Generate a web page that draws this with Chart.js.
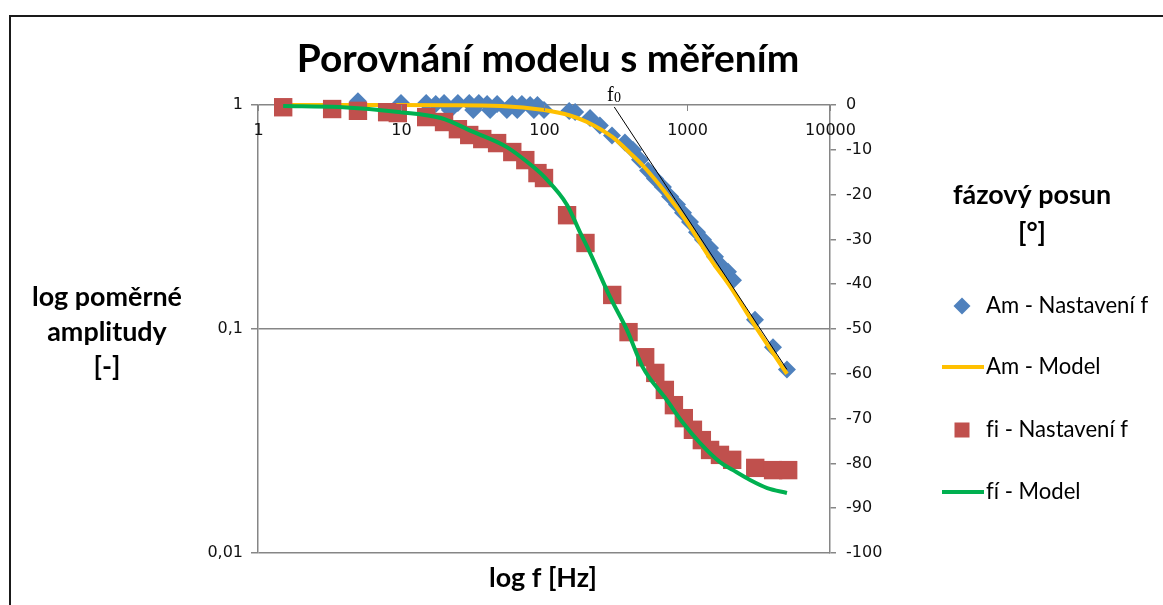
<!DOCTYPE html>
<html lang="cs">
<head>
<meta charset="utf-8">
<title>Porovnání modelu s měřením</title>
<script src="https://cdn.jsdelivr.net/npm/chart.js@4.4.1/dist/chart.umd.min.js"></script>
<style>
  html, body { margin: 0; padding: 0; background: #fff; }
  #wrap { width: 1163px; height: 605px; }
</style>
</head>
<body>
<div id="wrap"><canvas id="chart" width="1163" height="605"></canvas></div>
<script>
// amplituda - měření
const amFreq = [5, 10, 15, 17.5, 20, 22, 25, 30, 32, 35, 40, 42, 47, 55, 60, 65, 70, 80, 85, 90,
  100, 150, 165, 210, 246, 299, 368, 419, 469, 534, 597, 679, 761, 851, 938, 1050, 1175, 1294, 1449, 1570,
  1758, 1936, 2098, 2990, 3993, 5000];
const amMeas = [1.04, 1.02, 1.02, 1.01, 1.02, 0.95, 1.02, 1.02, 0.95, 1.02, 1.01, 0.95, 1.01, 0.95, 1.01, 0.95, 1.01, 1.0, 0.95, 1.0,
  0.95, 0.94, 0.93, 0.875, 0.81, 0.73, 0.68, 0.63, 0.57, 0.51, 0.47, 0.43, 0.39, 0.36, 0.33, 0.30, 0.27, 0.25, 0.23, 0.21,
  0.19, 0.18, 0.165, 0.11, 0.083, 0.066];

// amplituda - model
const amModelFreq = [1.5, 5, 10, 20, 50, 100, 150, 200, 300, 400, 500, 700, 1000, 1500, 2000, 3000, 4000, 5000];
const amModel = [1.0, 1.0, 1.0, 0.998, 0.99, 0.95, 0.90, 0.84, 0.72, 0.61, 0.53, 0.41, 0.30, 0.20, 0.155, 0.103, 0.078, 0.063];

// fázový posun - měření
const fiFreq = [1.5, 3.3, 5, 8, 9.5, 15, 20, 25, 30, 37, 47, 60, 74, 90, 100, 145, 195, 300, 390, 510,
  600, 700, 810, 950, 1100, 1270, 1450, 1700, 2070, 3000, 4000, 5100];
const fiMeas = [-0.5, -0.9, -1.3, -1.6, -1.8, -2.7, -3.8, -5.4, -6.7, -7.6, -8.5, -10.5, -12.3, -15.2, -16.3, -24.6, -30.8, -42.4, -50.7, -56.3,
  -59.8, -63.6, -67.0, -69.9, -72.5, -74.8, -77.0, -78.1, -79.2, -81.0, -81.5, -81.5];

// fázový posun - model
const fiModelFreq = [1.5, 3.7, 10, 19, 32, 55, 84, 100, 145, 178, 210, 290, 380, 490, 720, 940, 1230, 1700, 2100, 2760, 3640, 5000];
const fiModel = [-0.2, -0.45, -1.6, -2.9, -6.0, -9.4, -13.8, -16.0, -22.3, -28.3, -33.0, -42.9, -50.2, -58.5, -65.8, -71.0, -75.4, -79.7, -81.5, -83.7, -85.5, -86.6];

// asymptota od f0
const f0Freq = [310, 5000];
const f0Amp = [0.98, 0.066];

const xTicks = [1, 10, 100, 1000, 10000];
const xTickLabels = ['1', '10', '100', '1000', '10000'];
const yTicks = [0.01, 0.1, 1];
const yTickLabels = ['0,01', '0,1', '1'];

const chartTitle = 'Porovnání modelu s měřením';
const xTitle = 'log f [Hz]';
const yTitle = ['log poměrné', 'amplitudy', '[-]'];
const y1Title = ['fázový posun', '[°]'];
const legendLabels = ['Am - Nastavení f', 'Am - Model', 'fi - Nastavení f', 'fí - Model'];

const BLUE = '#4F81BD';
const ORANGE = '#FFC000';
const RED = '#C0504D';
const GREEN = '#00B050';
const AXIS = '#868686';
const CALIBRI = 'Lato';

function toPts(xs, ys) {
  return xs.map((v, i) => ({ x: v, y: ys[i] }));
}

// font size chosen so the text spans the given width
function fitFont(ctx, text, width, weight, family) {
  ctx.font = `${weight} 100px ${family}`;
  const size = 100 * width / ctx.measureText(text).width;
  return `${weight} ${size.toFixed(1)}px ${family}`;
}

// keep "fi" as two letters instead of the ligature
function noLig(text) {
  return text.replace(/f(?=[ií])/g, 'f\u200C');
}

const overlay = {
  id: 'overlay',
  afterDraw(chart) {
    const { ctx, chartArea: area } = chart;
    const x = chart.scales.x;
    ctx.save();

    // chart frame
    ctx.fillStyle = '#1a1a1a';
    ctx.fillRect(9, 15, chart.width - 9, 2);
    ctx.fillRect(9, 15, 2, chart.height - 15);

    // x axis ticks sit under the top line
    ctx.strokeStyle = AXIS;
    ctx.lineWidth = 1;
    ctx.fillStyle = '#111';
    ctx.font = '16px "DejaVu Sans"';
    ctx.textAlign = 'center';
    ctx.textBaseline = 'middle';
    xTicks.forEach((v, i) => {
      const px = Math.round(x.getPixelForValue(v)) + 0.5;
      ctx.beginPath();
      ctx.moveTo(px, area.top);
      ctx.lineTo(px, area.top + 6);
      ctx.stroke();
      ctx.fillText(xTickLabels[i], px, area.top + 26);
    });

    // titles
    ctx.fillStyle = '#000';
    ctx.font = fitFont(ctx, chartTitle, 503, 'bold', CALIBRI);
    ctx.fillText(chartTitle, 548, 59);

    const axisFont = fitFont(ctx, yTitle[0], 150, 'bold', CALIBRI);
    ctx.font = axisFont;
    yTitle.forEach((t, i) => ctx.fillText(t, 107, 297 + i * 35));
    y1Title.forEach((t, i) => ctx.fillText(t, 1032, 195 + i * 38));
    ctx.fillText(xTitle, 543, 578);

    // f0 label
    ctx.textAlign = 'left';
    ctx.textBaseline = 'alphabetic';
    ctx.font = '20px "Liberation Serif"';
    ctx.fillText('f', 607, 101);
    ctx.font = '14px "Liberation Serif"';
    ctx.fillText('0', 614, 102);

    // legend
    const rows = [306, 367, 430, 492];
    ctx.font = fitFont(ctx, legendLabels[0], 162, 'normal', CALIBRI);
    ctx.textBaseline = 'middle';
    rows.forEach((ly, i) => {
      const ds = chart.data.datasets.find(d => d.label === legendLabels[i]);
      if (ds.showLine) {
        ctx.strokeStyle = ds.borderColor;
        ctx.lineWidth = ds.borderWidth;
        ctx.beginPath();
        ctx.moveTo(942, ly);
        ctx.lineTo(984, ly);
        ctx.stroke();
      } else if (ds.pointStyle === 'rectRot') {
        ctx.fillStyle = ds.backgroundColor;
        ctx.beginPath();
        ctx.moveTo(962, ly - 8.5);
        ctx.lineTo(970.5, ly);
        ctx.lineTo(962, ly + 8.5);
        ctx.lineTo(953.5, ly);
        ctx.closePath();
        ctx.fill();
      } else {
        ctx.fillStyle = ds.backgroundColor;
        ctx.fillRect(954.5, ly - 7.5, 15, 15);
      }
      ctx.fillStyle = '#000';
      ctx.fillText(noLig(legendLabels[i]), 986, ly);
    });

    ctx.restore();
  }
};

new Chart(document.getElementById('chart'), {
  type: 'scatter',
  data: {
    datasets: [
      {
        label: 'f0',
        data: toPts(f0Freq, f0Amp),
        yAxisID: 'y',
        showLine: true,
        borderColor: '#000',
        borderWidth: 1,
        pointRadius: 0,
        clip: false,
        order: 0
      },
      {
        label: 'fí - Model',
        data: toPts(fiModelFreq, fiModel),
        yAxisID: 'y1',
        showLine: true,
        borderColor: GREEN,
        borderWidth: 4,
        pointRadius: 0,
        cubicInterpolationMode: 'monotone',
        clip: false,
        order: 1
      },
      {
        label: 'fi - Nastavení f',
        data: toPts(fiFreq, fiMeas),
        yAxisID: 'y1',
        pointStyle: 'rect',
        pointRadius: 13,
        backgroundColor: RED,
        borderColor: RED,
        borderWidth: 0,
        clip: false,
        order: 2
      },
      {
        label: 'Am - Model',
        data: toPts(amModelFreq, amModel),
        yAxisID: 'y',
        showLine: true,
        borderColor: ORANGE,
        borderWidth: 4,
        pointRadius: 0,
        cubicInterpolationMode: 'monotone',
        clip: false,
        order: 3
      },
      {
        label: 'Am - Nastavení f',
        data: toPts(amFreq, amMeas),
        yAxisID: 'y',
        pointStyle: 'rectRot',
        pointRadius: 9,
        backgroundColor: BLUE,
        borderColor: BLUE,
        borderWidth: 0,
        clip: false,
        order: 4
      }
    ]
  },
  options: {
    responsive: false,
    animation: false,
    events: [],
    layout: { padding: { top: 105, bottom: 52, left: 0, right: 0 } },
    plugins: {
      legend: { display: false },
      tooltip: { enabled: false },
      title: { display: false }
    },
    scales: {
      x: {
        type: 'logarithmic',
        min: 1,
        max: 10000,
        display: false
      },
      y: {
        type: 'logarithmic',
        position: 'left',
        min: 0.01,
        max: 1,
        afterBuildTicks: s => { s.ticks = yTicks.map(v => ({ value: v })); },
        afterFit: s => { s.width = 258; },
        ticks: {
          callback: v => yTickLabels[yTicks.indexOf(v)],
          font: { family: 'DejaVu Sans', size: 16 },
          color: '#111',
          padding: 8
        },
        grid: { color: AXIS, lineWidth: 1.5, tickLength: 7 },
        border: { color: AXIS, width: 1.5 }
      },
      y1: {
        type: 'linear',
        position: 'right',
        min: -100,
        max: 0,
        afterFit: s => { s.width = 333; },
        ticks: {
          stepSize: 10,
          callback: v => String(v),
          font: { family: 'DejaVu Sans', size: 16 },
          color: '#111',
          padding: 10
        },
        grid: { drawOnChartArea: false, color: AXIS, lineWidth: 1.5, tickLength: 6 },
        border: { color: AXIS, width: 1.5 }
      }
    }
  },
  plugins: [overlay]
});
</script>
</body>
</html>
